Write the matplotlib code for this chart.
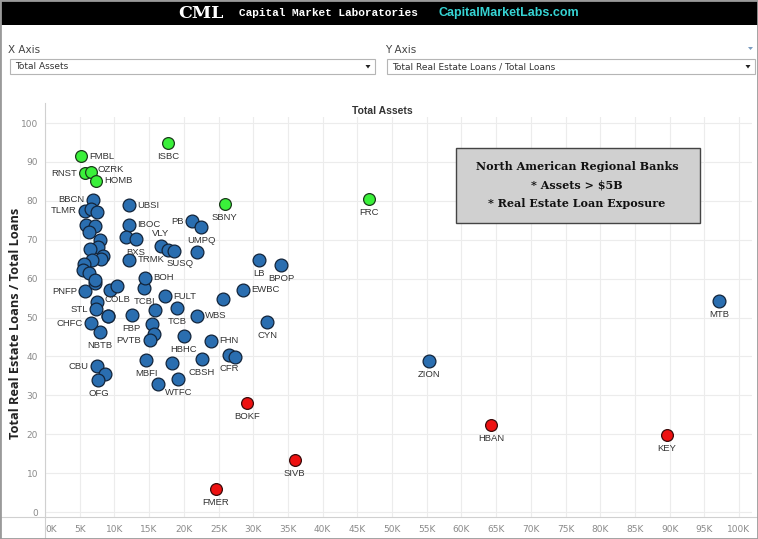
import matplotlib
matplotlib.use("Agg")
import matplotlib.pyplot as plt
from matplotlib.patches import Rectangle, Polygon
from matplotlib.lines import Line2D
from matplotlib.ticker import FuncFormatter

# ---------------- data ----------------
# Total assets (K on axis) and RE loans / total loans (%)
green_names = ["FMBL", "ISBC", "RNST", "OZRK", "HOMB", "SBNY", "FRC"]
green_x = [5.2, 17.7, 5.8, 6.6, 7.35, 25.9, 46.7]
green_y = [91.5, 94.9, 87.1, 87.4, 85.1, 79.2, 80.5]

red_names = ["BOKF", "SIVB", "FMER", "HBAN", "KEY"]
red_x = [29.1, 36.0, 24.6, 64.3, 89.6]
red_y = [28.0, 13.4, 5.9, 22.4, 19.8]

blue_names = ["MTB", "ZION", "CYN", "LB", "BPOP", "EWBC", "", "WBS", "FHN", "CFR", "",
              "CBSH", "HBHC", "TCB", "FULT", "", "TCBI", "BOH", "", "COLB", "UBSI", "IBOC",
              "", "BXS", "TRMK", "VLY", "", "SUSQ", "PB", "UMPQ", "", "FBP", "",
              "", "", "PVTB", "MBFI", "", "WTFC", "", "CBU", "", "OFG", "", "STL",
              "CHFC", "NBTB", "PNFP", "", "BBCN", "TLMR", "", "", "", "", "", "", "",
              "", "", "", "", "", "", "", "", ""]
blue_x = [97.1, 55.3, 32.0, 30.8, 34.0, 28.5, 25.6, 21.9, 23.9, 26.5, 27.4,
          22.6, 20.0, 19.0, 17.3, 15.9, 14.3, 14.4, 9.4, 10.4, 12.1, 12.1,
          11.7, 13.1, 12.1, 16.7, 17.7, 18.6, 21.2, 22.5, 21.9, 12.5, 9.1,
          15.4, 15.7, 15.1, 14.6, 18.3, 19.2, 16.3, 7.5, 8.65, 7.7, 7.55, 7.35,
          6.6, 7.9, 5.8, 7.2, 6.9, 5.75, 6.7, 7.55, 5.9, 7.25, 6.3, 7.9, 7.6,
          6.5, 8.4, 8.0, 6.8, 5.6, 5.5, 6.35, 7.25, 9.1]
blue_y = [54.2, 38.8, 48.8, 64.8, 63.5, 57.1, 54.8, 50.4, 44.0, 40.4, 39.8,
          39.3, 45.2, 52.4, 55.5, 51.9, 57.6, 60.2, 57.1, 58.1, 78.9, 73.8,
          70.7, 70.2, 64.8, 68.4, 67.4, 67.1, 74.8, 73.3, 66.8, 50.6, 50.4,
          48.3, 45.8, 44.2, 39.1, 38.3, 34.2, 32.9, 37.5, 35.4, 33.9, 54.0, 52.1,
          48.5, 46.3, 56.8, 58.9, 80.3, 77.5, 77.9, 77.2, 73.8, 73.4, 71.9, 69.9, 68.2,
          67.6, 65.7, 65.0, 64.7, 63.8, 62.2, 61.4, 59.6, 50.5]

x_ticks = list(range(0, 101, 5))
y_ticks = list(range(0, 101, 10))

x_title = "Total Assets"
y_title = "Total Real Estate Loans / Total Loans"
box_lines = ["North American Regional Banks", "* Assets > $5B", "* Real Estate Loan Exposure"]

# label placement (style only)
label_pos = {"FMBL": "r", "RNST": "l", "OZRK": "tr", "HOMB": "r", "BBCN": "l", "TLMR": "l",
             "UBSI": "r", "IBOC": "r", "TRMK": "r", "VLY": "t", "SUSQ": "b+", "PB": "l",
             "EWBC": "r", "WBS": "r", "FHN": "r", "FULT": "r", "BOH": "r",
             "PNFP": "l", "STL": "l", "CHFC": "l", "PVTB": "l", "CBU": "l"}

# ---------------- figure ----------------
W, H = 758, 539
fig = plt.figure(figsize=(W / 100, H / 100), dpi=100)
fig.patch.set_facecolor("white")


def fx(px):
    return px / W


def fy(py):
    return 1 - py / H


# header band
fig.patches.append(Rectangle((0, fy(25)), 1, 25 / H, transform=fig.transFigure,
                             facecolor="black", edgecolor="none", zorder=0))
fig.text(fx(178), fy(13), "CML", color="white", fontsize=12.5, fontweight="bold",
         family="DejaVu Serif", va="center", ha="left")
fig.text(fx(239), fy(13), "Capital Market Laboratories", color="white", fontsize=8.0,
         fontweight="bold", family="Liberation Mono", va="center", ha="left")
fig.text(fx(438), fy(13), "CapitalMarketLabs.com", color="#36d3d3", fontsize=9.0,
         fontweight="bold", family="Liberation Sans", va="center", ha="left")

# dropdown controls
fig.text(fx(8), fy(50), "X Axis", fontsize=7.5, color="#444444", va="center", ha="left",
         family="Liberation Sans Narrow")
fig.text(fx(385), fy(50), "Y Axis", fontsize=7.5, color="#444444", va="center", ha="left",
         family="Liberation Sans Narrow")
for (x0, x1, txt) in [(10, 375, "Total Assets"), (387, 755, "Total Real Estate Loans / Total Loans")]:
    fig.patches.append(Rectangle((fx(x0), fy(74)), fx(x1 - x0), 15 / H, transform=fig.transFigure,
                                 facecolor="white", edgecolor="#b5b5b5", lw=0.8))
    fig.text(fx(x0 + 5), fy(66.5), txt, fontsize=6.5, color="#333333", va="center", ha="left",
             family="Liberation Sans Narrow")
    tx = x1 - 7
    fig.patches.append(Polygon([(fx(tx - 2.5), fy(65)), (fx(tx + 2.5), fy(65)), (fx(tx), fy(68.5))],
                               closed=True, transform=fig.transFigure, facecolor="#222222",
                               edgecolor="none"))
fig.patches.append(Polygon([(fx(748), fy(47)), (fx(753), fy(47)), (fx(750.5), fy(50))],
                           closed=True, transform=fig.transFigure, facecolor="#7a9cc0",
                           edgecolor="none"))

# separators (Tableau pane lines)
fig.lines.append(Line2D([fx(45), fx(45)], [fy(103), 0], transform=fig.transFigure,
                        color="#d0d0d0", lw=0.8))
fig.lines.append(Line2D([0, 1], [fy(517), fy(517)], transform=fig.transFigure,
                        color="#d0d0d0", lw=0.8))

# ---------------- plot axes ----------------
ax_l, ax_r, ax_t, ax_b = 45, 752, 117, 517
ax = fig.add_axes([fx(ax_l), fy(ax_b), (ax_r - ax_l) / W, (ax_b - ax_t) / H])
px_per_k = 6.94
px_per_u = 3.89
ax.set_xlim(0, (ax_r - ax_l) / px_per_k)
ax.set_ylim(-(ax_b - 512) / px_per_u, (512 - ax_t) / px_per_u)
ax.set_xticks(x_ticks)
ax.set_yticks(y_ticks)
ax.xaxis.set_major_formatter(FuncFormatter(lambda v, p: f"{int(v)}K"))
ax.grid(True, color="#ececec", lw=0.8)
ax.set_axisbelow(True)
for s in ax.spines.values():
    s.set_visible(False)
ax.tick_params(axis="x", length=0, labelsize=6.5, labelcolor="#8a8a8a", pad=6)
ax.tick_params(axis="y", length=0, labelsize=6.5, labelcolor="#8a8a8a", pad=5)
for lab in ax.get_xticklabels() + ax.get_yticklabels():
    lab.set_family("Liberation Sans Narrow")
ax.get_xticklabels()[0].set_horizontalalignment("left")

fig.text(fx(382), fy(111), x_title, fontsize=7.5, fontweight="bold", color="#333333",
         ha="center", va="center", family="Liberation Sans")
fig.text(fx(16), fy(323), y_title, fontsize=9.2, fontweight="bold", color="#222222",
         ha="center", va="center", rotation=90, family="Open Sans")

ax.scatter(blue_x, blue_y, s=85, c="#2a6eb0", edgecolors="#12243a", linewidths=0.9, zorder=3)
ax.scatter(green_x, green_y, s=72, c="#3af03a", edgecolors="#1a3a1a", linewidths=0.9, zorder=3)
ax.scatter(red_x, red_y, s=72, c="#ee1111", edgecolors="#3a0a0a", linewidths=0.9, zorder=3)

offsets = {"b": (0, -6.5, "center", "top"), "l": (-6, 0, "right", "center"),
           "r": (6, 0, "left", "center"), "t": (0, 6, "center", "bottom"),
           "tr": (5, 2, "left", "center"), "b+": (4, -6, "center", "top")}
for names, xs, ys in [(green_names, green_x, green_y), (red_names, red_x, red_y),
                      (blue_names, blue_x, blue_y)]:
    for n, x, y in zip(names, xs, ys):
        if not n:
            continue
        dx, dy, ha, va = offsets[label_pos.get(n, "b")]
        ax.annotate(n, (x, y), xytext=(dx, dy), textcoords="offset points", ha=ha, va=va,
                    fontsize=6.8, color="#333333", family="Liberation Sans", zorder=4)

# annotation box
fig.patches.append(Rectangle((fx(456), fy(223)), (700 - 456) / W, (223 - 148) / H,
                             transform=fig.transFigure, facecolor="#d0d0d0",
                             edgecolor="#444444", lw=1.0, zorder=5))
for i, t in enumerate(box_lines):
    fig.text(fx(577), fy(166 + 19 * i), t, fontsize=8.0, fontweight="bold", color="#111111",
             family="DejaVu Serif", ha="center", va="center", zorder=6)

# outer border
fig.patches.append(Rectangle((0, 0), 1, 1, transform=fig.transFigure, facecolor="none",
                             edgecolor="#9a9a9a", lw=2, zorder=10))

fig.savefig("out.png", dpi=100)
